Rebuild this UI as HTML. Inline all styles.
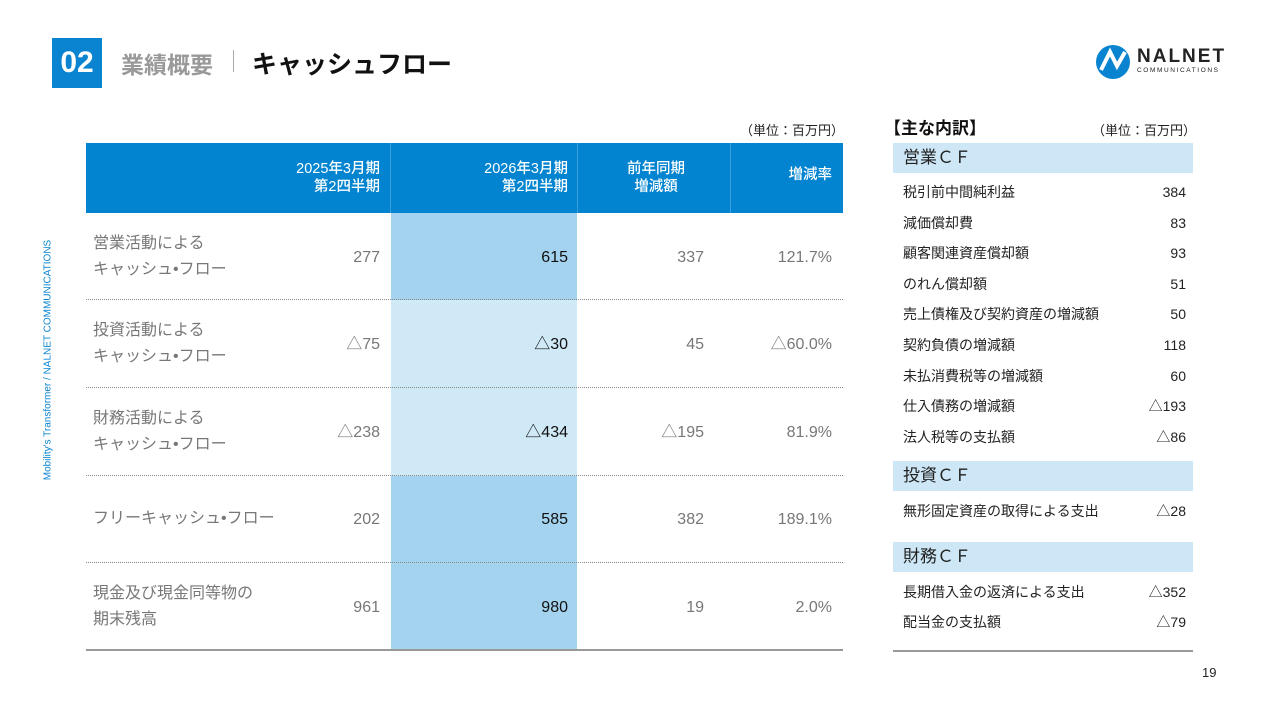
<!DOCTYPE html>
<html><head><meta charset="utf-8"><style>
body{margin:0;width:1280px;height:721px;background:#fff;position:relative;overflow:hidden;font-family:"Liberation Sans","Noto Sans CJK JP",sans-serif;}
.a{position:absolute;}
.hd{color:#fff;font-size:14.5px;line-height:18px;text-align:right;font-weight:500;}
.lbl{color:#777;font-size:16px;line-height:26px;}
.v{color:#777;font-size:16px;line-height:20px;height:20px;text-align:right;width:150px;}
.v.k{color:#111;}
.dot{border-top:1.5px dotted #888;height:0;left:86px;width:757px;}
.it{font-size:14px;line-height:20px;height:20px;color:#222;left:903px;width:283px;}
.it span{float:right;line-height:20px;}
.sec{left:893px;width:300px;height:30px;background:#cde7f6;font-size:17px;color:#222;line-height:30px;text-indent:10px;}
</style></head><body>
<div class="a" style="left:52px;top:38px;width:50px;height:50px;background:#0a84d0;color:#fff;font-weight:bold;font-size:30px;line-height:50px;text-align:center;">02</div>
<div class="a" style="left:121px;top:46px;font-size:23px;color:#999;font-weight:bold;">業績概要</div>
<div class="a" style="left:233px;top:50px;width:1px;height:22px;background:#aaa;"></div>
<div class="a" style="left:252px;top:45px;font-size:25px;color:#111;font-weight:bold;">キャッシュフロー</div>
<div class="a" style="left:1095px;top:44px;">
<svg width="38" height="36" viewBox="0 0 38 36"><circle cx="18" cy="18" r="17" fill="#0a84d0"/><path d="M6 26 L15 8 L22 22 L30 8" stroke="#fff" stroke-width="4" fill="none"/></svg></div>
<div class="a" style="left:1137px;top:46px;font-size:19px;font-weight:bold;color:#222;letter-spacing:2px;">NALNET</div>
<div class="a" style="left:1137px;top:67px;font-size:6.5px;color:#222;letter-spacing:1.6px;">COMMUNICATIONS</div>
<div class="a" style="left:48px;top:360px;transform:translate(-50%,-50%) rotate(-90deg);font-size:10px;color:#0a84d0;white-space:nowrap;">Mobility's Transformer / NALNET COMMUNICATIONS</div>
<div class="a" style="left:740px;top:120px;font-size:13px;color:#222;">（単位：百万円）</div>

<div class="a" style="left:86px;top:143px;width:757px;height:70px;background:#0284d0;"></div>
<div class="a" style="left:390px;top:143px;width:1px;height:70px;background:#3aa0dd;"></div>
<div class="a" style="left:577px;top:143px;width:1px;height:70px;background:#3aa0dd;"></div>
<div class="a" style="left:730px;top:143px;width:1px;height:70px;background:#3aa0dd;"></div>
<div class="a hd" style="left:230px;top:160px;width:150px;">2025年3月期<br>第2四半期</div>
<div class="a hd" style="left:418px;top:160px;width:150px;">2026年3月期<br>第2四半期</div>
<div class="a hd" style="left:600px;top:160px;width:112px;text-align:center;">前年同期<br>増減額</div>
<div class="a hd" style="left:730px;top:166px;width:102px;">増減率</div>

<div class="a" style="left:391px;top:213px;width:186px;height:87px;background:#a4d3ef;"></div>
<div class="a" style="left:391px;top:300px;width:186px;height:176px;background:#d0e9f7;"></div>
<div class="a" style="left:391px;top:476px;width:186px;height:174px;background:#a4d3ef;"></div>

<div class="a dot" style="top:299px;"></div>
<div class="a dot" style="top:387px;"></div>
<div class="a dot" style="top:475px;"></div>
<div class="a dot" style="top:562px;"></div>
<div class="a" style="left:86px;top:649px;width:757px;height:2px;background:#999;"></div>

<div class="a lbl" style="left:93px;top:231px;">営業活動による<br>キャッシュ•フロー</div>
<div class="a v" style="left:230px;top:248px;">277</div><div class="a v k" style="left:418px;top:248px;">615</div><div class="a v" style="left:554px;top:248px;">337</div><div class="a v" style="left:682px;top:248px;">121.7%</div>
<div class="a lbl" style="left:93px;top:318px;">投資活動による<br>キャッシュ•フロー</div>
<div class="a v" style="left:230px;top:335px;">△75</div><div class="a v k" style="left:418px;top:335px;">△30</div><div class="a v" style="left:554px;top:335px;">45</div><div class="a v" style="left:682px;top:335px;">△60.0%</div>
<div class="a lbl" style="left:93px;top:406px;">財務活動による<br>キャッシュ•フロー</div>
<div class="a v" style="left:230px;top:423px;">△238</div><div class="a v k" style="left:418px;top:423px;">△434</div><div class="a v" style="left:554px;top:423px;">△195</div><div class="a v" style="left:682px;top:423px;">81.9%</div>
<div class="a lbl" style="left:93px;top:506px;">フリーキャッシュ•フロー</div>
<div class="a v" style="left:230px;top:510px;">202</div><div class="a v k" style="left:418px;top:510px;">585</div><div class="a v" style="left:554px;top:510px;">382</div><div class="a v" style="left:682px;top:510px;">189.1%</div>
<div class="a lbl" style="left:93px;top:581px;">現金及び現金同等物の<br>期末残高</div>
<div class="a v" style="left:230px;top:598px;">961</div><div class="a v k" style="left:418px;top:598px;">980</div><div class="a v" style="left:554px;top:598px;">19</div><div class="a v" style="left:682px;top:598px;">2.0%</div>

<div class="a" style="left:884px;top:114px;font-size:17px;color:#111;font-weight:bold;">【主な内訳】</div>
<div class="a" style="left:1092px;top:120px;font-size:13px;color:#222;">（単位：百万円）</div>
<div class="a sec" style="top:143px;">営業ＣＦ</div>
<div class="a it" style="top:182px;">税引前中間純利益<span>384</span></div>
<div class="a it" style="top:213px;">減価償却費<span>83</span></div>
<div class="a it" style="top:243px;">顧客関連資産償却額<span>93</span></div>
<div class="a it" style="top:274px;">のれん償却額<span>51</span></div>
<div class="a it" style="top:304px;">売上債権及び契約資産の増減額<span>50</span></div>
<div class="a it" style="top:335px;">契約負債の増減額<span>118</span></div>
<div class="a it" style="top:366px;">未払消費税等の増減額<span>60</span></div>
<div class="a it" style="top:396px;">仕入債務の増減額<span>△193</span></div>
<div class="a it" style="top:427px;">法人税等の支払額<span>△86</span></div>
<div class="a sec" style="top:461px;">投資ＣＦ</div>
<div class="a it" style="top:501px;">無形固定資産の取得による支出<span>△28</span></div>
<div class="a sec" style="top:542px;">財務ＣＦ</div>
<div class="a it" style="top:582px;">長期借入金の返済による支出<span>△352</span></div>
<div class="a it" style="top:612px;">配当金の支払額<span>△79</span></div>
<div class="a" style="left:893px;top:650px;width:300px;height:2px;background:#999;"></div>
<div class="a" style="left:1202px;top:665px;font-size:13px;color:#222;">19</div>
</body></html>
